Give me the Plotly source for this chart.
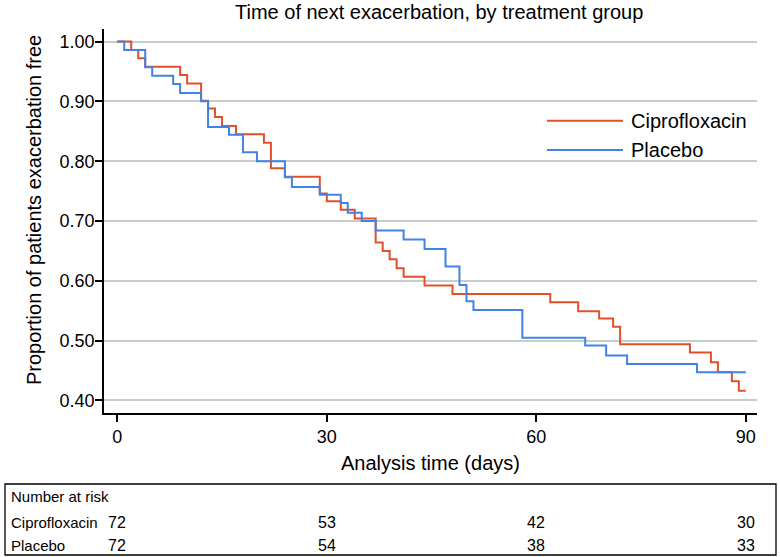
import plotly.graph_objects as go

# ---------------- data ----------------
cipro_days = [0, 2, 3, 4, 9, 10, 12, 13, 14, 15, 17, 21, 22, 24, 29, 30, 32, 34, 37, 38,
              39, 40, 41, 44, 48, 62, 66, 69, 71, 72, 82, 85, 86, 88, 89, 90]
cipro_surv = [1.000, 0.986, 0.972, 0.958, 0.944, 0.930, 0.901, 0.888, 0.874, 0.859, 0.845,
              0.831, 0.788, 0.774, 0.746, 0.733, 0.719, 0.704, 0.664, 0.650, 0.636, 0.621,
              0.607, 0.592, 0.578, 0.564, 0.549, 0.537, 0.523, 0.494, 0.480, 0.464, 0.447,
              0.432, 0.416, 0.416]

placebo_days = [0, 1, 4, 5, 8, 9, 12, 13, 16, 18, 20, 24, 25, 29, 32, 33, 35, 37, 41, 44,
                47, 49, 50, 51, 58, 67, 70, 73, 83, 90]
placebo_surv = [1.000, 0.986, 0.957, 0.943, 0.929, 0.914, 0.900, 0.857, 0.844, 0.815, 0.800,
                0.773, 0.757, 0.744, 0.730, 0.714, 0.700, 0.684, 0.669, 0.653, 0.624, 0.593,
                0.566, 0.551, 0.505, 0.492, 0.475, 0.461, 0.447, 0.447]

x_ticks = [0, 30, 60, 90]
y_ticks = [0.40, 0.50, 0.60, 0.70, 0.80, 0.90, 1.00]
y_tick_labels = ["0.40", "0.50", "0.60", "0.70", "0.80", "0.90", "1.00"]

risk_groups = ["Ciprofloxacin", "Placebo"]
risk_cipro = [72, 53, 42, 30]
risk_placebo = [72, 54, 38, 33]

RED = "#e2502a"
BLUE = "#4282e6"
FONT = "Liberation Sans, Arial, Helvetica, sans-serif"

# ---------------- geometry (screen pixels) ----------------
W, H = 780, 557
PX0, PX1, PY0, PY1 = 104, 757, 29, 413
L, R, T, B = PX0, W - PX1, PY0, H - PY1
PW, PH = PX1 - PX0, PY1 - PY0


def px_x(px):
    return (px - PX0) / PW


def px_y(py):
    return (PY1 - py) / PH


fig = go.Figure()
fig.add_trace(go.Scatter(x=cipro_days, y=cipro_surv, mode="lines", line_shape="hv",
                         line=dict(color=RED, width=2), name="Ciprofloxacin",
                         showlegend=False))
fig.add_trace(go.Scatter(x=placebo_days, y=placebo_surv, mode="lines", line_shape="hv",
                         line=dict(color=BLUE, width=2), name="Placebo",
                         showlegend=False))

shapes = []
annotations = []

# legend (manual, long line samples)
for i, (name, col) in enumerate([("Ciprofloxacin", RED), ("Placebo", BLUE)]):
    py = 120.7 + i * 29.3
    shapes.append(dict(type="line", xref="paper", yref="paper",
                       x0=px_x(547), x1=px_x(623), y0=px_y(py), y1=px_y(py),
                       line=dict(color=col, width=2)))
    annotations.append(dict(text=name, xref="paper", yref="paper", x=px_x(629), y=px_y(py),
                            xanchor="left", yanchor="middle", showarrow=False,
                            font=dict(size=20, color="black", family=FONT)))

# axis titles
annotations.append(dict(text="Analysis time (days)", xref="paper", yref="paper",
                        x=px_x(430), y=px_y(463), xanchor="center", yanchor="middle",
                        showarrow=False, font=dict(size=20, color="black", family=FONT)))
annotations.append(dict(text="Proportion of patients exacerbation free", xref="paper",
                        yref="paper", x=px_x(34), y=px_y(210), textangle=-90,
                        xanchor="center", yanchor="middle", showarrow=False,
                        font=dict(size=20, color="black", family=FONT)))

# title
annotations.append(dict(text="Time of next exacerbation, by treatment group",
                        xref="paper", yref="paper", x=px_x(439), y=px_y(12),
                        xanchor="center", yanchor="middle", showarrow=False,
                        font=dict(size=20, color="black", family=FONT)))

# risk table
shapes.append(dict(type="rect", xref="paper", yref="paper",
                   x0=px_x(5), x1=px_x(776), y0=px_y(555), y1=px_y(484),
                   line=dict(color="black", width=1.3)))
annotations.append(dict(text="Number at risk", xref="paper", yref="paper",
                        x=px_x(9), y=px_y(496), xanchor="left", yanchor="middle",
                        showarrow=False, font=dict(size=15, color="black", family=FONT)))
for g, (grp, vals) in enumerate(zip(risk_groups, [risk_cipro, risk_placebo])):
    py = 522 + g * 23
    annotations.append(dict(text=grp, xref="paper", yref="paper", x=px_x(9), y=px_y(py),
                            xanchor="left", yanchor="middle", showarrow=False,
                            font=dict(size=15, color="black", family=FONT)))
    for t, v in zip(x_ticks, vals):
        annotations.append(dict(text=str(v), xref="x", yref="paper", x=t, y=px_y(py),
                                xanchor="center", yanchor="middle", showarrow=False,
                                font=dict(size=16, color="black", family=FONT)))

fig.update_layout(
    width=W, height=H,
    margin=dict(l=L, r=R, t=T, b=B, pad=0),
    paper_bgcolor="white", plot_bgcolor="white",
    font=dict(family=FONT, color="black"),
    shapes=shapes, annotations=annotations,
    showlegend=False,
)
fig.update_xaxes(range=[-1.9, 91.6], tickvals=x_ticks, ticktext=[str(v) for v in x_ticks],
                 showgrid=False, zeroline=False, showline=True, linecolor="black",
                 linewidth=1.5, ticks="outside", ticklen=7, tickwidth=1.5,
                 tickcolor="black", tickfont=dict(size=18, color="black", family=FONT))
fig.update_yaxes(range=[0.379, 1.021], tickvals=y_ticks, ticktext=y_tick_labels,
                 showgrid=True, gridcolor="#c6cecb", gridwidth=1.5, zeroline=False,
                 showline=True, linecolor="black", linewidth=1.5, ticks="outside",
                 ticklen=7, tickwidth=1.5, tickcolor="black", ticklabelstandoff=-3,
                 tickfont=dict(size=18, color="black", family=FONT))

fig.write_html("out.html", config={"displayModeBar": False},
               post_script="document.body.style.margin='0px';"
                           "document.body.style.overflow='hidden';")
